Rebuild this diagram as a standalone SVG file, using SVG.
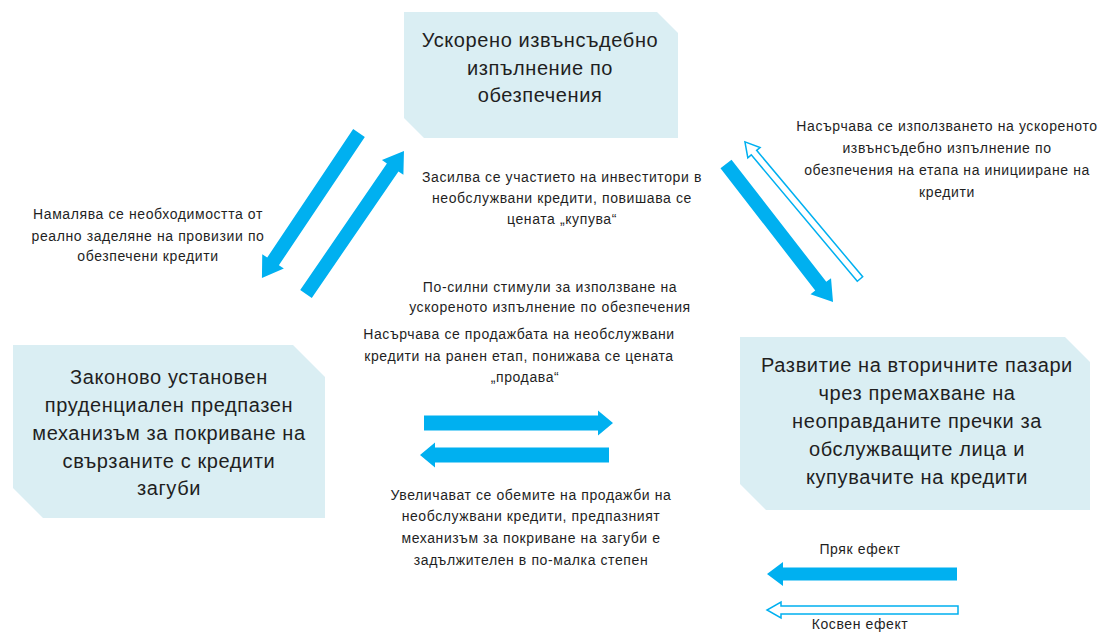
<svg xmlns="http://www.w3.org/2000/svg" width="1105" height="633" viewBox="0 0 1105 633">
<style>
.box{fill:#DAEEF3;stroke:none}
.bt{font-family:"Liberation Sans",Arial,sans-serif;font-size:20px;letter-spacing:0.6px;fill:#1f1f1f;text-anchor:middle}
.lt{font-family:"Liberation Sans",Arial,sans-serif;font-size:14px;letter-spacing:0.6px;fill:#1f1f1f;text-anchor:middle}
.solid{fill:#00B0F0;stroke:none}
.hollow{fill:#ffffff;stroke:#00B0F0;stroke-width:1.5;stroke-linejoin:miter}
</style>
<rect width="1105" height="633" fill="#ffffff"/>
<g id="node-top">
<path class="box" d="M404,12 L657,12 L678,33 L678,138 L424,138 L404,118 Z"/>
<text class="bt" x="540" y="47">Ускорено извънсъдебно</text>
<text class="bt" x="540" y="75">изпълнение по</text>
<text class="bt" x="540" y="102">обезпечения</text>
</g>
<g id="node-left">
<path class="box" d="M13,345 L293,345 L325,377 L325,518 L43,518 L13,488 Z"/>
<text class="bt" x="169" y="384">Законово установен</text>
<text class="bt" x="169" y="412">пруденциален предпазен</text>
<text class="bt" x="169" y="440">механизъм за покриване на</text>
<text class="bt" x="169" y="468">свързаните с кредити</text>
<text class="bt" x="169" y="495">загуби</text>
</g>
<g id="node-right">
<path class="box" d="M740,337 L1065,337 L1090,362 L1090,510 L766,510 L740,484 Z"/>
<text class="bt" x="917" y="372">Развитие на вторичните пазари</text>
<text class="bt" x="917" y="400">чрез премахване на</text>
<text class="bt" x="917" y="428">неоправданите пречки за</text>
<text class="bt" x="917" y="456">обслужващите лица и</text>
<text class="bt" x="917" y="484">купувачите на кредити</text>
</g>
<g id="connectors">
<path class="solid" transform="translate(359,133) rotate(123.8)" d="M0,-7 L154.5,-7 L154.5,-13 L174.5,0 L154.5,13 L154.5,7 L0,7 Z"/>
<path class="solid" transform="translate(306,294) rotate(-55.6)" d="M0,-7 L153.4,-7 L153.4,-13 L173.4,0 L153.4,13 L153.4,7 L0,7 Z"/>
<path class="solid" transform="translate(726,164) rotate(52.2)" d="M0,-7 L154.6,-7 L154.6,-13 L174.6,0 L154.6,13 L154.6,7 L0,7 Z"/>
<path class="hollow" transform="translate(860,279) rotate(-130)" d="M0,-3.5 L165,-3.5 L165,-8 L179,0 L165,8 L165,3.5 L0,3.5 Z"/>
<path class="solid" transform="translate(424,423)" d="M0,-7.5 L174,-7.5 L174,-12.5 L189,0 L174,12.5 L174,7.5 L0,7.5 Z"/>
<path class="solid" transform="translate(609,455) rotate(180)" d="M0,-7.5 L174,-7.5 L174,-12.5 L189,0 L174,12.5 L174,7.5 L0,7.5 Z"/>
</g>
<g id="labels">
<text class="lt" x="148" y="219">Намалява се необходимостта  от</text>
<text class="lt" x="148" y="241">реално заделяне на провизии  по</text>
<text class="lt" x="148" y="261">обезпечени  кредити</text>
<text class="lt" x="562" y="182">Засилва се участието на инвеститори  в</text>
<text class="lt" x="562" y="203">необслужвани  кредити, повишава се</text>
<text class="lt" x="562" y="224">цената „купува“</text>
<text class="lt" x="550" y="292">По-силни  стимули за използване  на</text>
<text class="lt" x="550" y="312">ускореното изпълнение  по обезпечения</text>
<text class="lt" x="519" y="339">Насърчава се продажбата на необслужвани</text>
<text class="lt" x="519" y="361">кредити на ранен етап, понижава се цената</text>
<text class="lt" x="525" y="382">„продава“</text>
<text class="lt" x="531" y="500">Увеличават се обемите на продажби на</text>
<text class="lt" x="531" y="521">необслужвани  кредити, предпазният</text>
<text class="lt" x="531" y="543">механизъм  за покриване  на загуби е</text>
<text class="lt" x="531" y="565">задължителен  в по-малка степен</text>
<text class="lt" x="947" y="131">Насърчава се използването  на ускореното</text>
<text class="lt" x="947" y="153">извънсъдебно  изпълнение  по</text>
<text class="lt" x="947" y="175">обезпечения  на етапа на иницииране  на</text>
<text class="lt" x="947" y="197">кредити</text>
</g>
<g id="legend">
<path class="solid" transform="translate(957,574) rotate(180)" d="M0,-6.5 L174,-6.5 L174,-12 L190,0 L174,12 L174,6.5 L0,6.5 Z"/>
<path class="hollow" transform="translate(958,610) rotate(180)" d="M0,-4 L177,-4 L177,-8 L191,0 L177,8 L177,4 L0,4 Z"/>
<text class="lt" x="860" y="554">Пряк ефект</text>
<text class="lt" x="860" y="629">Косвен ефект</text>
</g>
</svg>
